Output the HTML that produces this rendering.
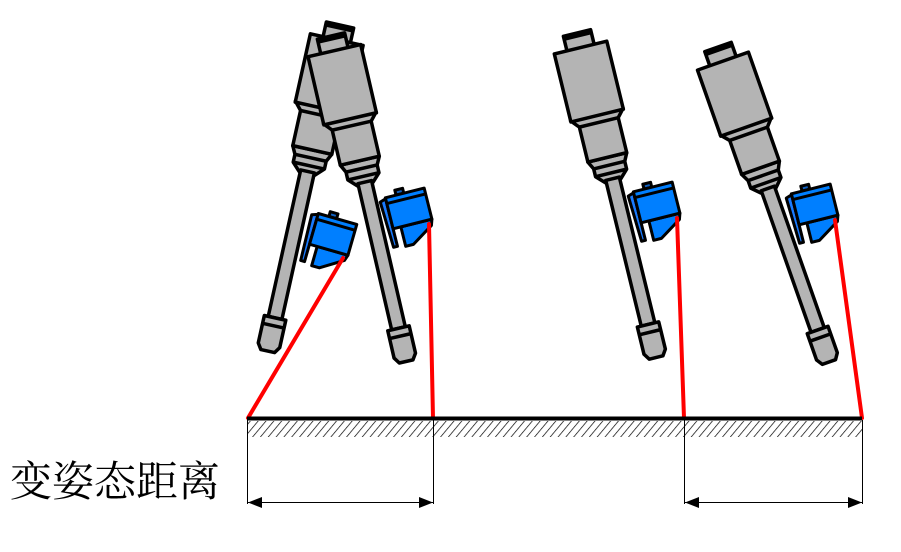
<!DOCTYPE html>
<html><head><meta charset="utf-8"><style>
html,body{margin:0;padding:0;background:#fff;width:901px;height:552px;overflow:hidden}
svg{display:block}
</style></head><body>
<svg width="901" height="552" viewBox="0 0 901 552" xmlns="http://www.w3.org/2000/svg">
<defs>
<pattern id="h" width="6" height="6" patternUnits="userSpaceOnUse" patternTransform="rotate(40)">
<line x1="0" y1="0" x2="0" y2="6" stroke="#000" stroke-width="1.4"/>
</pattern>
<g id="tool" stroke="#000" stroke-width="3.5" stroke-linejoin="round" fill="#b4b4b4">
<rect x="-14" y="0" width="28" height="16"/>
<line x1="-14" y1="3" x2="14" y2="3"/>
<polygon points="-20,128 20,128 16,136 16,144 8,152 -8,152 -16,144 -16,136"/>
<line x1="-16" y1="136" x2="16" y2="136"/>
<line x1="-16" y1="144" x2="16" y2="144"/>
<rect x="-7" y="150" width="14" height="150"/>
<path d="M-11,300 L11,300 L11,328 L7,334 L-7,334 L-11,328 Z"/>
<line x1="-11" y1="308" x2="11" y2="308"/>
<polygon points="-27,84 27,84 20,92 20,128 -20,128 -20,92"/>
<line x1="-20" y1="92" x2="20" y2="92"/>
<rect x="-27" y="15" width="54" height="70"/>
</g>
<g id="sensor" stroke="#000" stroke-width="3" stroke-linejoin="round">
<rect x="-25" y="-41" width="8" height="5" fill="#1060c0"/>
<polygon points="-42,-33 -36,-35 -36,14 -40,14" fill="#1a7bff"/>
<polygon points="-28,-4 4,-4 2,2 -20,16 -28,16" fill="#007fff"/>
<rect x="-36" y="-36" width="40" height="32" fill="#007fff"/>
<line x1="-36" y1="-30" x2="4" y2="-30"/>
</g>
</defs>
<use href="#tool" transform="translate(577,33) rotate(-13.7)"/>
<use href="#tool" transform="translate(718,47) rotate(-19.4)"/>
<use href="#tool" transform="translate(340,25) rotate(12.5)"/>
<use href="#tool" transform="translate(331,36) rotate(-13)"/>
<use href="#sensor" transform="translate(343,258) rotate(16)"/>
<use href="#sensor" transform="translate(429,224) rotate(-14)"/>
<use href="#sensor" transform="translate(677,218) rotate(-14)"/>
<use href="#sensor" transform="translate(835,220) rotate(-14)"/>
<g stroke="#ff0000" stroke-width="4" stroke-linecap="round">
<line x1="343" y1="258" x2="248" y2="418"/>
<line x1="429" y1="224" x2="433" y2="418"/>
<line x1="677" y1="218" x2="684" y2="418"/>
<line x1="835" y1="220" x2="862" y2="418"/>
</g>
<rect x="248" y="421" width="614" height="16" fill="url(#h)"/>
<line x1="247" y1="418.5" x2="862" y2="418.5" stroke="#000" stroke-width="4"/>
<g stroke="#000" stroke-width="1">
<line x1="247.5" y1="420" x2="247.5" y2="504"/>
<line x1="433.5" y1="420" x2="433.5" y2="504"/>
<line x1="684.5" y1="420" x2="684.5" y2="504"/>
<line x1="862.5" y1="420" x2="862.5" y2="504"/>
<line x1="248" y1="502.5" x2="433" y2="502.5"/>
<line x1="685" y1="502.5" x2="862" y2="502.5"/>
</g>
<g fill="#000">
<polygon points="248,502.5 262,497 262,508"/>
<polygon points="433,502.5 419,497 419,508"/>
<polygon points="685,502.5 699,497 699,508"/>
<polygon points="862,502.5 848,497 848,508"/>
</g>
<text x="10" y="496" font-family="'Liberation Serif','Noto Serif CJK SC',serif" font-size="42" fill="#000">变姿态距离</text>
</svg>
</body></html>
